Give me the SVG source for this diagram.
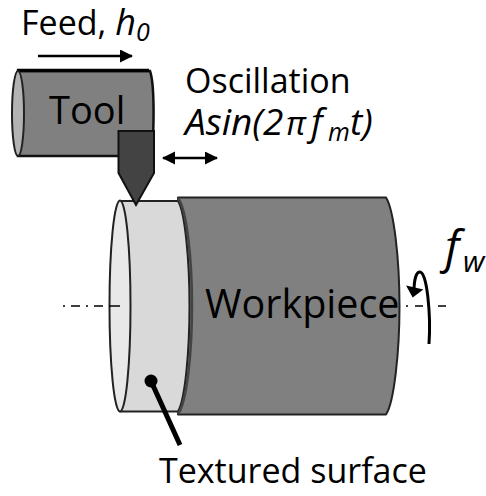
<svg xmlns="http://www.w3.org/2000/svg" width="486" height="496" viewBox="0 0 486 496">
<defs>
<style>
text{font-family:"Open Sans","Noto Sans",sans-serif;fill:#000}
.t{font-size:34px}
.i{font-style:italic}
.o{stroke:#222;stroke-width:2;stroke-linejoin:round}
.a{stroke:#000;stroke-width:2.5;fill:none}
</style>
<marker id="ah" markerUnits="userSpaceOnUse" markerWidth="14" markerHeight="14" refX="12" refY="6.5" orient="auto-start-reverse"><path d="M0 0L13 6.5L0 13Z" fill="#000"/></marker>
</defs>
<g id="workpiece">
<path class="o" d="M178 197.500H386C394 210 399.500 260 399.500 306C399.500 352 394 403 386 414.500H178Z" fill="#808080"/>
<text x="205" y="318" style="font-size:39.500px">Workpiece</text>
</g>
<g id="textured-surface">
<path class="o" d="M120 201H178C185 212 189.500 260 189.500 306C189.500 352 185 400 178 411.500H120Z" fill="#d9d9d9"/>
<path d="M178 198C187 210 192 260 192 306C192 352 187 402 178 414" fill="none" stroke="#444" stroke-width="2.500"/>
<ellipse class="o" cx="120" cy="306" rx="10.500" ry="105.500" fill="#e8e8e8"/>
<text class="t" x="159" y="483">Textured surface</text>
</g>
<g id="tool">
<path d="M18 71H150C155 85 154.500 145 150 156H18Z" fill="#808080" stroke="#111" stroke-width="2.500"/>
<path d="M17 70.500H149" stroke="#000" stroke-width="3.500"/>
<ellipse class="o" cx="18" cy="113.500" rx="6" ry="42.500" fill="#b3b3b3"/>
<text x="49" y="124" style="font-size:38px">Tool</text>
<path d="M118.500 131H154V173L136 205L118.500 173Z" fill="#434343" stroke="#111" stroke-width="2"/>
</g>
<g id="connectors">
<path class="a" d="M38 56H132" marker-end="url(#ah)"/>
<path class="a" d="M163 158H217" marker-start="url(#ah)" marker-end="url(#ah)"/>
<path d="M151 381L180 445" stroke="#000" stroke-width="5" fill="none"/>
<circle cx="151" cy="381" r="6.500" fill="#000"/>
<path d="M63 306H65M71 306H80M86 306H88M94 306H103M109 306H120" stroke="#000" stroke-width="1.500" fill="none"/>
<path d="M406 306H408M415 306H423M438 306H446" stroke="#000" stroke-width="1.500" fill="none"/>
<path d="M429 344C431 315 427 272 420 272C416 272 414 280 414 292" fill="none" stroke="#000" stroke-width="3"/>
<path d="M408 287L421 290L413 296Z" fill="#000" stroke="#000" stroke-width="2"/>
</g>
<g id="labels">
<text class="t" x="21" y="35">Feed, <tspan class="i" style="font-size:36px">h</tspan><tspan class="i" dy="6" style="font-size:25px">0</tspan></text>
<text class="t" x="185" y="93">Oscillation</text>
<text class="i" x="185" y="135" style="font-size:37px">Asin(2<tspan x="286" style="font-size:33px">π</tspan><tspan x="311" style="font-size:37px">f</tspan><tspan x="328" dy="6" style="font-size:25px">m</tspan><tspan x="350" dy="-6">t)</tspan></text>
<text class="i" x="445" y="263" style="font-size:46px">f<tspan x="463" dy="9" style="font-size:30px">w</tspan></text>
</g>
</svg>
